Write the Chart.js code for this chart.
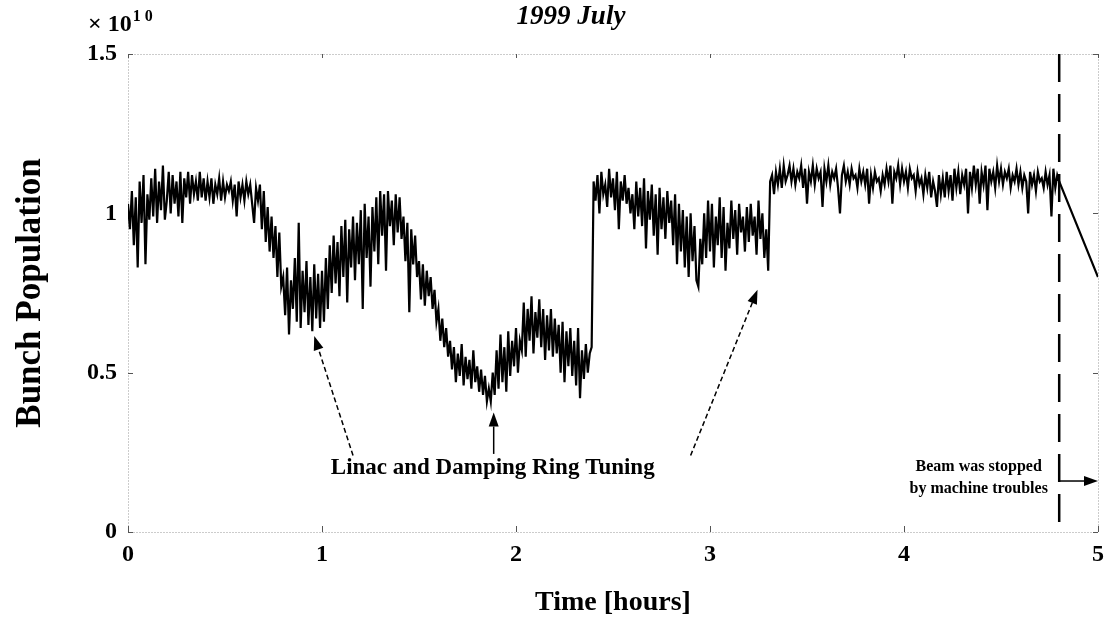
<!DOCTYPE html>
<html>
<head>
<meta charset="utf-8">
<title>Bunch Population - 1999 July</title>
<script src="https://cdn.jsdelivr.net/npm/chart.js@4.4.1/dist/chart.umd.min.js"></script>
<style>
  html, body { margin: 0; padding: 0; background: #fff; }
</style>
</head>
<body>
<canvas id="myChart" width="1114" height="622"></canvas>
<script>
// bunch population in units of 1e10, one sample every 0.01 h
const sampleStep = 0.01;
const bunchPop = [
	1.03, 0.95, 1.07, 0.90, 1.05, 0.83, 1.10, 0.97, 1.12, 0.84, 1.06, 0.98, 1.11, 0.99, 1.14, 0.97, 1.10, 1.01, 1.15, 0.98,
	1.04, 1.13, 1.00, 1.12, 1.03, 1.10, 0.99, 1.13, 0.97, 1.11, 1.05, 1.13, 1.03, 1.12, 1.06, 1.10, 1.04, 1.13, 1.05, 1.11,
	1.04, 1.10, 1.05, 1.11, 1.03, 1.09, 1.06, 1.11, 1.04, 1.10, 1.05, 1.09, 1.07, 1.10, 1.04, 1.09, 0.99, 1.10, 1.05, 1.09,
	1.04, 1.10, 1.06, 1.09, 1.03, 0.97, 1.08, 1.04, 1.09, 0.95, 1.07, 0.91, 1.02, 0.88, 0.99, 0.86, 0.96, 0.80, 0.94, 0.77,
	0.80, 0.68, 0.83, 0.62, 0.79, 0.70, 0.86, 0.66, 0.97, 0.64, 0.82, 0.69, 0.85, 0.65, 0.80, 0.63, 0.84, 0.67, 0.81, 0.64,
	0.82, 0.66, 0.86, 0.70, 0.90, 0.75, 0.93, 0.78, 0.91, 0.74, 0.96, 0.80, 0.98, 0.72, 0.95, 0.83, 0.99, 0.79, 0.97, 0.84,
	1.01, 0.70, 1.03, 0.86, 0.99, 0.77, 1.02, 0.88, 1.05, 0.84, 1.07, 0.93, 1.06, 0.82, 1.07, 0.96, 1.04, 0.90, 1.06, 0.94,
	1.05, 0.92, 0.99, 0.85, 0.97, 0.69, 0.95, 0.84, 0.93, 0.80, 0.85, 0.73, 0.84, 0.71, 0.82, 0.74, 0.80, 0.70, 0.76, 0.66,
	0.70, 0.60, 0.67, 0.58, 0.64, 0.55, 0.60, 0.51, 0.58, 0.47, 0.56, 0.49, 0.59, 0.46, 0.55, 0.48, 0.54, 0.45, 0.57, 0.47,
	0.52, 0.44, 0.51, 0.43, 0.49, 0.41, 0.45, 0.41, 0.50, 0.43, 0.57, 0.45, 0.62, 0.47, 0.58, 0.44, 0.63, 0.49, 0.60, 0.52,
	0.64, 0.50, 0.60, 0.57, 0.72, 0.55, 0.70, 0.60, 0.74, 0.56, 0.69, 0.61, 0.73, 0.58, 0.70, 0.54, 0.68, 0.57, 0.70, 0.55,
	0.67, 0.56, 0.65, 0.50, 0.66, 0.47, 0.63, 0.52, 0.64, 0.49, 0.60, 0.46, 0.64, 0.42, 0.57, 0.48, 0.59, 0.50, 0.56, 0.58,
	1.10, 1.04, 1.12, 1.00, 1.13, 1.06, 1.09, 1.02, 1.14, 1.05, 1.11, 1.01, 1.13, 0.95, 1.10, 1.04, 1.12, 1.03, 1.08, 1.00,
	1.06, 0.95, 1.10, 0.99, 1.08, 0.96, 1.11, 0.89, 1.07, 0.98, 1.09, 0.93, 1.06, 0.87, 1.08, 0.95, 1.05, 0.92, 1.07, 0.97,
	1.04, 0.90, 1.06, 0.84, 1.03, 0.88, 1.01, 0.83, 0.99, 0.80, 1.00, 0.85, 0.96, 0.79, 0.77, 0.92, 0.84, 1.00, 0.86, 1.04,
	0.88, 1.03, 0.83, 0.99, 0.90, 1.05, 0.86, 1.02, 0.82, 0.97, 0.89, 1.04, 0.92, 1.01, 0.87, 1.03, 0.94, 0.99, 0.88, 1.02,
	0.91, 1.03, 0.93, 0.99, 0.87, 1.04, 0.92, 1.00, 0.86, 0.95, 0.82, 1.10, 1.12, 1.06, 1.13, 1.09, 1.14, 1.08, 1.15, 1.10,
	1.12, 1.15, 1.10, 1.14, 1.09, 1.13, 1.11, 1.15, 1.08, 1.14, 1.03, 1.13, 1.10, 1.15, 1.09, 1.14, 1.11, 1.13, 1.02, 1.14,
	1.10, 1.15, 1.09, 1.13, 1.11, 1.14, 1.08, 1.00, 1.12, 1.15, 1.10, 1.13, 1.09, 1.14, 1.11, 1.12, 1.08, 1.14, 1.10, 1.13,
	1.09, 1.14, 1.03, 1.12, 1.08, 1.13, 1.10, 1.11, 1.07, 1.12, 1.09, 1.14, 1.10, 1.15, 1.03, 1.13, 1.11, 1.15, 1.09, 1.14,
	1.10, 1.13, 1.08, 1.14, 1.11, 1.12, 1.07, 1.13, 1.09, 1.11, 1.06, 1.12, 1.08, 1.13, 1.05, 1.10, 1.07, 1.02, 1.12, 1.06,
	1.11, 1.05, 1.13, 1.07, 1.12, 1.04, 1.14, 1.08, 1.13, 1.06, 1.12, 1.09, 1.14, 1.00, 1.13, 1.08, 1.15, 1.09, 1.14, 1.03,
	1.13, 1.09, 1.15, 1.01, 1.14, 1.10, 1.13, 1.08, 1.15, 1.10, 1.14, 1.09, 1.13, 1.11, 1.14, 1.08, 1.12, 1.10, 1.14, 1.09,
	1.13, 1.08, 1.12, 1.10, 1.00, 1.13, 1.09, 1.12, 1.07, 1.13, 1.10, 1.11, 1.08, 1.13, 1.09, 1.12, 0.99, 1.14, 1.08, 1.12,
	1.10
];
// last logged point after the stop
const tailTimes = [5.0];
const tailValues = [0.80];

const stopTime = 4.8;   // beam stopped [hours]
const xTicks = [0, 1, 2, 3, 4, 5];
const yTicks = [0, 0.5, 1, 1.5];

const SERIF = '"Liberation Serif", "Times New Roman", serif';

let tracePts = bunchPop.map((v, i) => ({ x: +(i * sampleStep).toFixed(2), y: v }));
tailTimes.forEach((t, i) => tracePts.push({ x: t, y: tailValues[i] }));

// annotations, in data units (hours, 1e10)
const arrowNotes = [
	{ from: [1.16, 0.24], to: [0.96, 0.615], dash: [5, 3] },
	{ from: [1.885, 0.245], to: [1.885, 0.375], dash: [] },
	{ from: [2.90, 0.24], to: [3.245, 0.76], dash: [5, 3] },
	{ from: [4.80, 0.16], to: [5.0, 0.16], dash: [] }
];
const textNotes = [
	{ text: 'Linac and Damping Ring Tuning', at: [1.88, 0.20], size: 23 },
	{ text: 'Beam was stopped', at: [4.385, 0.205], size: 16 },
	{ text: 'by machine troubles', at: [4.385, 0.135], size: 16 }
];

function drawArrow(ctx, x1, y1, x2, y2, dash) {
	let ang = Math.atan2(y2 - y1, x2 - x1);
	let head = 14, half = 5;
	let bx = x2 - head * Math.cos(ang), by = y2 - head * Math.sin(ang);
	ctx.save();
	ctx.strokeStyle = '#000';
	ctx.fillStyle = '#000';
	ctx.lineWidth = 1.5;
	ctx.setLineDash(dash);
	ctx.beginPath();
	ctx.moveTo(x1, y1);
	ctx.lineTo(bx, by);
	ctx.stroke();
	ctx.setLineDash([]);
	ctx.beginPath();
	ctx.moveTo(x2, y2);
	ctx.lineTo(bx + half * Math.sin(ang), by - half * Math.cos(ang));
	ctx.lineTo(bx - half * Math.sin(ang), by + half * Math.cos(ang));
	ctx.closePath();
	ctx.fill();
	ctx.restore();
}

const decorPlugin = {
	id: 'decor',
	beforeDatasetsDraw(chart) {
		const { ctx, chartArea: a, scales: { x, y } } = chart;
		ctx.save();
		// dotted frame
		ctx.strokeStyle = '#999';
		ctx.lineWidth = 1;
		ctx.setLineDash([1, 2]);
		ctx.strokeRect(a.left + 0.5, a.top + 0.5, a.right - a.left, a.bottom - a.top);
		ctx.setLineDash([]);
		// small inward ticks
		ctx.strokeStyle = '#555';
		xTicks.forEach(v => {
			let px = Math.round(x.getPixelForValue(v)) + 0.5;
			ctx.beginPath();
			ctx.moveTo(px, a.bottom); ctx.lineTo(px, a.bottom - 6);
			ctx.moveTo(px, a.top); ctx.lineTo(px, a.top + 4);
			ctx.stroke();
		});
		yTicks.forEach(v => {
			let py = Math.round(y.getPixelForValue(v)) + 0.5;
			ctx.beginPath();
			ctx.moveTo(a.left, py); ctx.lineTo(a.left + 5, py);
			ctx.moveTo(a.right, py); ctx.lineTo(a.right - 5, py);
			ctx.stroke();
		});
		ctx.restore();
	},
	afterDraw(chart) {
		const { ctx, scales: { x, y } } = chart;
		ctx.save();
		ctx.fillStyle = '#000';

		// title
		ctx.font = 'italic bold 27px ' + SERIF;
		ctx.textAlign = 'center';
		ctx.textBaseline = 'middle';
		ctx.fillText('1999 July', 571, 17);

		// exponent of the y axis
		ctx.textAlign = 'left';
		ctx.textBaseline = 'alphabetic';
		ctx.font = 'bold 24px ' + SERIF;
		ctx.fillText('\u00d7 10', 88, 31);
		let w = ctx.measureText('\u00d7 10').width;
		ctx.font = 'bold 16px ' + SERIF;
		ctx.fillText('1 0', 88 + w + 1, 21);

		// notes
		ctx.textAlign = 'center';
		ctx.textBaseline = 'middle';
		textNotes.forEach(n => {
			ctx.font = 'bold ' + n.size + 'px ' + SERIF;
			ctx.fillText(n.text, x.getPixelForValue(n.at[0]), y.getPixelForValue(n.at[1]));
		});
		arrowNotes.forEach(n => {
			drawArrow(ctx,
				x.getPixelForValue(n.from[0]), y.getPixelForValue(n.from[1]),
				x.getPixelForValue(n.to[0]), y.getPixelForValue(n.to[1]), n.dash);
		});
		ctx.restore();
	}
};

const ctx = document.getElementById('myChart').getContext('2d');
const myChart = new Chart(ctx, {
	type: 'line',
	data: {
		datasets: [{
			label: 'Bunch Population',
			data: tracePts,
			borderColor: '#000',
			borderWidth: 2.2,
			pointRadius: 0,
			tension: 0
		}, {
			label: 'Beam stop',
			data: [{ x: stopTime, y: yTicks[yTicks.length - 1] }, { x: stopTime, y: yTicks[0] }],
			borderColor: '#000',
			borderWidth: 2.5,
			borderDash: [28, 12],
			pointRadius: 0
		}]
	},
	options: {
		responsive: false,
		animation: false,
		devicePixelRatio: 1,
		layout: { padding: { top: 54, right: 16, left: 0, bottom: 0 } },
		plugins: {
			legend: { display: false },
			title: { display: false },
			tooltip: { enabled: false }
		},
		scales: {
			x: {
				type: 'linear',
				min: 0,
				max: 5,
				afterBuildTicks: s => { s.ticks = xTicks.map(v => ({ value: v })); },
				afterFit: s => { s.height = 90; },
				grid: { display: false, drawTicks: false },
				border: { display: false },
				ticks: {
					color: '#000', padding: 8,
					font: { family: SERIF, size: 24, weight: 'bold' },
					callback: v => String(v)
				},
				title: {
					display: true,
					text: 'Time [hours]',
					color: '#000',
					padding: { top: 0, bottom: 2 },
					font: { family: SERIF, size: 28, weight: 'bold' }
				}
			},
			y: {
				type: 'linear',
				min: 0,
				max: 1.5,
				afterBuildTicks: s => { s.ticks = yTicks.map(v => ({ value: v })); },
				afterFit: s => { s.width = 128; },
				grid: { display: false, drawTicks: false },
				border: { display: false },
				ticks: {
					color: '#000', padding: 11,
					font: { family: SERIF, size: 24, weight: 'bold' },
					callback: v => String(v)
				},
				title: {
					display: true,
					text: 'Bunch Population',
					color: '#000',
					padding: { top: 10, bottom: 0 },
					font: { family: SERIF, size: 35, weight: 'bold' }
				}
			}
		}
	},
	plugins: [decorPlugin]
});
</script>
</body>
</html>
